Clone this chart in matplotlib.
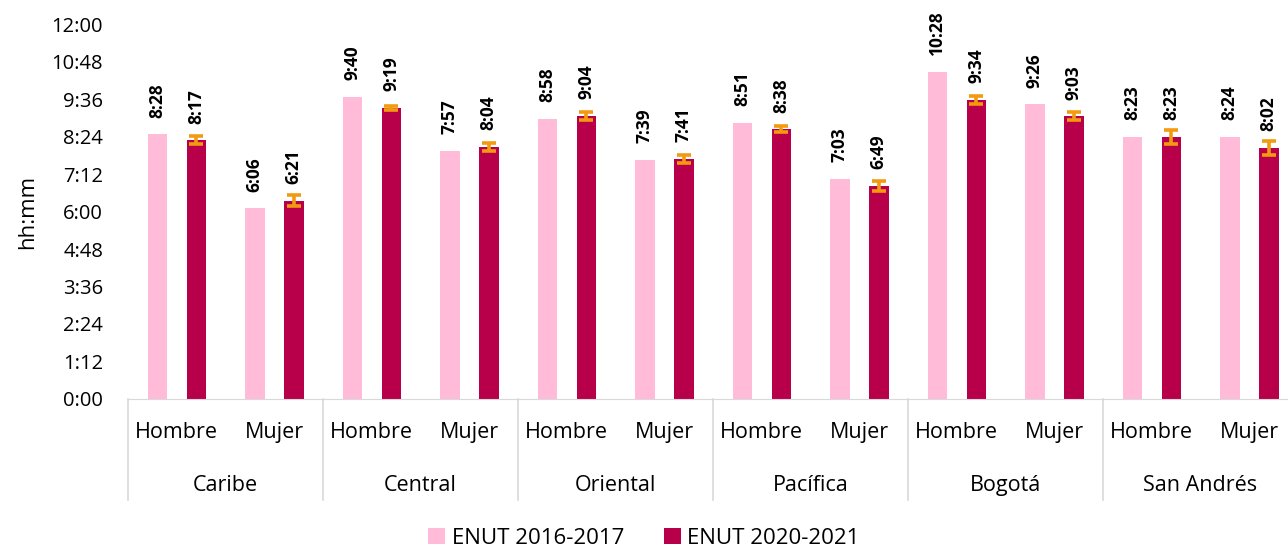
import numpy as np
import matplotlib.pyplot as plt

plt.rcParams['font.family'] = ['Open Sans', 'DejaVu Sans']

regiones = ['Caribe', 'Central', 'Oriental', 'Pacífica', 'Bogotá', 'San Andrés']
sexos = ['Hombre', 'Mujer']
# minutes per day, order: region x (Hombre, Mujer)
enut_2016 = [508, 366, 580, 477, 538, 459, 531, 423, 628, 566, 503, 504]
enut_2020 = [497, 381, 559, 484, 544, 461, 518, 409, 574, 543, 503, 482]
err_2020 = [8, 10, 4, 7, 8, 8, 6, 9, 7, 8, 14, 14]

c_pink = '#FFBBD7'
c_dark = '#B8004A'
c_err = '#F29B11'

def fmt(m):
    return '%d:%02d' % (m // 60, m % 60)

fig = plt.figure(figsize=(12.88, 5.48), dpi=100)
ax = fig.add_axes([0.0994, 0.272, 1170 / 1288, 0.684])

x = np.arange(len(enut_2016))
w = 0.2
b1 = ax.bar(x - w, enut_2016, w, color=c_pink, label='ENUT 2016-2017')
b2 = ax.bar(x + w, enut_2020, w, color=c_dark, label='ENUT 2020-2021')
ax.errorbar(x + w, enut_2020, yerr=err_2020, fmt='none', ecolor=c_err,
            elinewidth=2.6, capsize=5, capthick=2.6)

for i in range(len(x)):
    ax.annotate(fmt(enut_2016[i]), (x[i] - w, enut_2016[i]), xytext=(0, 12),
                textcoords='offset points', rotation=90, ha='center', va='bottom',
                fontsize=12.5, fontweight='bold')
    ax.annotate(fmt(enut_2020[i]), (x[i] + w, enut_2020[i]), xytext=(0, 12),
                textcoords='offset points', rotation=90, ha='center', va='bottom',
                fontsize=12.5, fontweight='bold')

ax.set_xlim(-0.5, len(x) - 0.5)
ax.set_ylim(0, 720)
ticks = np.arange(0, 721, 72)
ax.set_yticks(ticks)
ax.set_yticklabels([fmt(t) for t in ticks], fontsize=14.5)
ax.tick_params(axis='y', length=0, pad=18)
ax.set_ylabel('hh:mm', fontsize=16, labelpad=10)
for s in ['top', 'right', 'left']:
    ax.spines[s].set_visible(False)
ax.spines['bottom'].set_color('#D9D9D9')
ax.set_xticks([])

trans = ax.get_xaxis_transform()
for i in range(len(x)):
    ax.text(x[i], -0.09, sexos[i % 2], transform=trans, ha='center', va='center', fontsize=15.5)
for g, reg in enumerate(regiones):
    ax.text(2 * g + 0.5, -0.23, reg, transform=trans, ha='center', va='center', fontsize=15.5)
for g in range(len(regiones) + 1):
    ax.plot([2 * g - 0.5, 2 * g - 0.5], [0, -0.27], transform=trans, color='#D9D9D9',
            lw=1.2, clip_on=False)

fig.legend(handles=[b1, b2], loc='center', bbox_to_anchor=(0.5, 0.018), ncol=2,
           frameon=False, fontsize=16, handlelength=0.75, handleheight=0.75,
           handletextpad=0.3, columnspacing=1.8)

fig.savefig('out.png', dpi=100)
